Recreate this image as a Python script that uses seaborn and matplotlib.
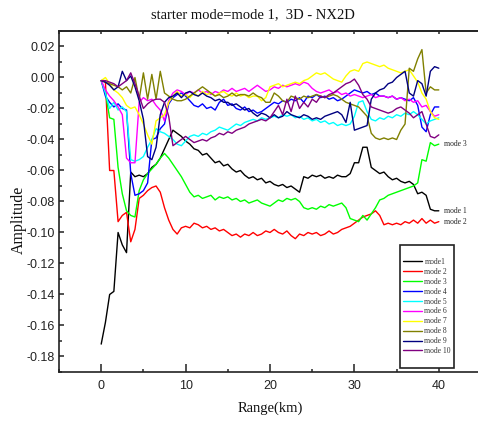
import numpy as np
import pandas as pd
import matplotlib
matplotlib.use("Agg")
import matplotlib.pyplot as plt
import seaborn as sns
from matplotlib.ticker import MultipleLocator, FormatStrFormatter
from matplotlib.patches import Rectangle
from matplotlib.lines import Line2D

# Range samples (km), 0.5 km step
range_km = np.arange(81) * 0.5

mode_1 = [
    -0.172, -0.158, -0.140, -0.138, -0.100, -0.108, -0.113, -0.061, -0.064, -0.063,
    -0.064, -0.062, -0.058, -0.056, -0.052, -0.046, -0.040, -0.034, -0.036, -0.038,
    -0.041, -0.043, -0.046, -0.047, -0.050, -0.049, -0.052, -0.055, -0.054, -0.057,
    -0.056, -0.059, -0.061, -0.060, -0.063, -0.065, -0.064, -0.066, -0.065, -0.068,
    -0.067, -0.069, -0.070, -0.069, -0.071, -0.070, -0.072, -0.074, -0.064, -0.065,
    -0.063, -0.064, -0.063, -0.065, -0.064, -0.065, -0.063, -0.064, -0.064, -0.062,
    -0.055, -0.055, -0.045, -0.045, -0.058, -0.060, -0.062, -0.061, -0.064, -0.066,
    -0.065, -0.067, -0.068, -0.067, -0.069, -0.075, -0.074, -0.076, -0.085, -0.086,
    -0.086,
]
mode_2 = [
    -0.002, -0.003, -0.060, -0.060, -0.093, -0.089, -0.087, -0.106, -0.098, -0.078,
    -0.076, -0.073, -0.071, -0.070, -0.074, -0.084, -0.092, -0.098, -0.101, -0.097,
    -0.096, -0.097, -0.094, -0.095, -0.097, -0.096, -0.098, -0.097, -0.099, -0.098,
    -0.100, -0.102, -0.101, -0.103, -0.101, -0.102, -0.100, -0.102, -0.101, -0.099,
    -0.100, -0.098, -0.100, -0.101, -0.099, -0.102, -0.104, -0.101, -0.102, -0.100,
    -0.101, -0.100, -0.102, -0.101, -0.099, -0.101, -0.100, -0.098, -0.097, -0.096,
    -0.094, -0.092, -0.090, -0.089, -0.088, -0.086, -0.089, -0.095, -0.094, -0.095,
    -0.094, -0.095, -0.093, -0.094, -0.092, -0.094, -0.091, -0.094, -0.092, -0.094,
    -0.093,
]
mode_3 = [
    -0.002, -0.010, -0.026, -0.027, -0.058, -0.075, -0.086, -0.089, -0.090, -0.073,
    -0.066, -0.062, -0.059, -0.056, -0.052, -0.049, -0.052, -0.056, -0.060, -0.064,
    -0.069, -0.074, -0.077, -0.076, -0.078, -0.077, -0.076, -0.079, -0.077, -0.078,
    -0.077, -0.079, -0.078, -0.080, -0.079, -0.081, -0.080, -0.079, -0.081, -0.082,
    -0.083, -0.081, -0.079, -0.080, -0.078, -0.079, -0.078, -0.080, -0.084, -0.085,
    -0.084, -0.085, -0.083, -0.084, -0.082, -0.083, -0.082, -0.081, -0.084, -0.091,
    -0.092, -0.093, -0.089, -0.092, -0.088, -0.084, -0.079, -0.078, -0.076, -0.075,
    -0.074, -0.073, -0.072, -0.071, -0.070, -0.068, -0.053, -0.054, -0.042, -0.044,
    -0.043,
]
mode_4 = [
    -0.002, -0.012, -0.016, -0.019, -0.017, -0.020, -0.021, -0.062, -0.076, -0.075,
    -0.073, -0.068, -0.040, -0.039, -0.033, -0.030, -0.017, -0.013, -0.011, -0.010,
    -0.012, -0.015, -0.018, -0.019, -0.017, -0.020, -0.019, -0.021, -0.016, -0.014,
    -0.018, -0.017, -0.020, -0.021, -0.019, -0.022, -0.021, -0.023, -0.022, -0.020,
    -0.018, -0.016, -0.017, -0.015, -0.016, -0.014, -0.015, -0.013, -0.016, -0.012,
    -0.013, -0.011, -0.013, -0.012, -0.014, -0.013, -0.015, -0.014, -0.012, -0.010,
    -0.008, -0.009, -0.010, -0.009, -0.011, -0.010, -0.012, -0.012, -0.013, -0.012,
    -0.014, -0.013, -0.014, -0.015, -0.013, -0.018, -0.032, -0.035, -0.024, -0.019,
    -0.019,
]
mode_5 = [
    -0.002, -0.010, -0.020, -0.016, -0.021, -0.019, -0.022, -0.053, -0.054, -0.053,
    -0.051, -0.045, -0.040, -0.033, -0.035, -0.036, -0.038, -0.040, -0.043, -0.044,
    -0.041, -0.038, -0.037, -0.038, -0.036, -0.037, -0.035, -0.034, -0.032, -0.033,
    -0.034, -0.032, -0.030, -0.031, -0.029, -0.028, -0.027, -0.028, -0.026, -0.027,
    -0.026, -0.025, -0.026, -0.024, -0.025, -0.024, -0.026, -0.025, -0.027, -0.026,
    -0.028, -0.027, -0.029, -0.028, -0.030, -0.029, -0.031, -0.030, -0.031, -0.030,
    -0.025, -0.016, -0.015, -0.022, -0.027, -0.028, -0.026, -0.027, -0.025, -0.026,
    -0.024, -0.025, -0.023, -0.024, -0.022, -0.024, -0.027, -0.030, -0.028, -0.027,
    -0.026,
]
mode_6 = [
    -0.002, -0.008, -0.012, -0.015, -0.019, -0.024, -0.052, -0.055, -0.055, -0.016,
    -0.013, -0.015, -0.014, -0.018, -0.021, -0.028, -0.015, -0.010, -0.008, -0.009,
    -0.011, -0.009, -0.010, -0.008, -0.010, -0.009, -0.011, -0.009, -0.010, -0.008,
    -0.009, -0.007, -0.009, -0.008, -0.007, -0.009, -0.007, -0.005, -0.007, -0.009,
    -0.008, -0.006, -0.007, -0.005, -0.006, -0.005, -0.004, -0.005, -0.003, -0.004,
    -0.007, -0.009, -0.010, -0.009, -0.008, -0.010, -0.009, -0.011, -0.010, -0.012,
    -0.011, -0.012, -0.013, -0.012, -0.011, -0.013, -0.012, -0.012, -0.013, -0.012,
    -0.014, -0.013, -0.015, -0.014, -0.016, -0.015, -0.019, -0.018, -0.022, -0.025,
    -0.024,
]
mode_7 = [
    -0.002, 0.000, -0.004, -0.008, -0.010, -0.013, -0.018, -0.020, -0.019, -0.024,
    -0.030, -0.037, -0.043, -0.028, -0.026, -0.024, -0.016, -0.012, -0.009, -0.012,
    -0.011, -0.013, -0.010, -0.012, -0.009, -0.011, -0.010, -0.012, -0.010, -0.009,
    -0.011, -0.012, -0.010, -0.012, -0.011, -0.013, -0.012, -0.012, -0.015, -0.013,
    -0.006, -0.005, -0.004, -0.006, -0.005, -0.004, -0.003, -0.004, -0.002, -0.001,
    0.001, 0.003, 0.002, 0.003, 0.001, -0.001, -0.002, -0.003, 0.001, 0.004,
    0.005, 0.004, 0.009, 0.010, 0.009, 0.008, 0.007, 0.008, 0.006, 0.005,
    0.004, 0.003, 0.004, 0.005, 0.001, -0.003, -0.010, -0.014, -0.022, -0.026,
    -0.027,
]
mode_8 = [
    -0.002, -0.003, -0.004, -0.005, -0.006, -0.008, -0.006, -0.010, 0.000, -0.014,
    0.003, -0.014, 0.002, -0.014, 0.004, -0.010, -0.012, -0.014, -0.015, -0.015,
    -0.014, -0.012, -0.010, -0.008, -0.006, -0.008, -0.010, -0.012, -0.011, -0.013,
    -0.012, -0.010, -0.012, -0.011, -0.011, -0.012, -0.010, -0.012, -0.013, -0.016,
    -0.016, -0.010, -0.012, -0.015, -0.016, -0.012, -0.013, -0.014, -0.012, -0.013,
    -0.012, -0.011, -0.012, -0.013, -0.012, -0.011, -0.012, -0.014, -0.016, -0.017,
    -0.018, -0.019, -0.022, -0.025, -0.036, -0.039, -0.040, -0.039, -0.040, -0.039,
    -0.040, -0.034, -0.030, 0.006, 0.004, 0.012, 0.018, -0.010, -0.006, -0.008,
    -0.008,
]
mode_9 = [
    -0.002, -0.003, -0.005, -0.008, -0.006, 0.004, -0.002, 0.001, -0.006, -0.015,
    -0.027, -0.051, -0.053, -0.045, -0.024, -0.016, -0.013, -0.012, -0.010, -0.013,
    -0.010, -0.009, -0.011, -0.012, -0.010, -0.012, -0.013, -0.015, -0.014, -0.016,
    -0.016, -0.018, -0.017, -0.019, -0.021, -0.020, -0.023, -0.025, -0.023, -0.024,
    -0.026, -0.024, -0.026, -0.025, -0.022, -0.024, -0.025, -0.026, -0.024, -0.025,
    -0.027, -0.026, -0.027, -0.025, -0.024, -0.023, -0.022, -0.024, -0.029, -0.016,
    -0.034, -0.033, -0.032, -0.031, -0.014, -0.010, -0.008, -0.007, -0.004, -0.003,
    0.000, 0.002, 0.004, -0.010, -0.012, -0.002, -0.004, -0.012, 0.004, 0.007,
    0.006,
]
mode_10 = [
    -0.002, -0.002, -0.003, -0.004, -0.006, -0.004, -0.002, 0.003, -0.004, -0.012,
    -0.020, -0.017, -0.015, -0.014, -0.014, -0.016, -0.025, -0.044, -0.042, -0.040,
    -0.038, -0.040, -0.042, -0.041, -0.040, -0.041, -0.039, -0.038, -0.036, -0.037,
    -0.035, -0.036, -0.034, -0.033, -0.032, -0.030, -0.029, -0.028, -0.027, -0.028,
    -0.026, -0.022, -0.018, -0.024, -0.014, -0.022, -0.012, -0.020, -0.016, -0.019,
    -0.014, -0.016, -0.012, -0.013, -0.011, -0.010, -0.008, -0.006, -0.004, -0.003,
    -0.001, -0.005, -0.011, -0.014, -0.019, -0.020, -0.021, -0.022, -0.023, -0.022,
    -0.020, -0.019, -0.021, -0.023, -0.026, -0.024, -0.022, -0.030, -0.038, -0.039,
    -0.037,
]

mode_names = ["mode 1", "mode 2", "mode 3", "mode 4", "mode 5",
              "mode 6", "mode 7", "mode 8", "mode 9", "mode 10"]
legend_labels = ["mode1", "mode 2", "mode 3", "mode 4", "mode 5",
                 "mode 6", "mode 7", "mode 8", "mode 9", "mode 10"]
mode_colors = ["#000000", "#ff0000", "#00ff00", "#0000ff", "#00ffff",
               "#ff00ff", "#ffff00", "#808000", "#000080", "#800080"]
series = [mode_1, mode_2, mode_3, mode_4, mode_5,
          mode_6, mode_7, mode_8, mode_9, mode_10]

sns.set_style("ticks")
plt.rcParams["font.family"] = ["Liberation Sans Narrow", "Liberation Sans", "DejaVu Sans"]
plt.rcParams["axes.unicode_minus"] = False
SERIF = ["Liberation Serif", "DejaVu Serif"]

df = pd.DataFrame({
    "range": np.tile(range_km, len(series)),
    "amp": np.concatenate([np.asarray(s, dtype=float) for s in series]),
    "mode": np.repeat(mode_names, len(range_km)),
})

W, H = 478, 423
fig = plt.figure(figsize=(W / 100, H / 100), dpi=100)
ax = fig.add_axes([59 / W, 51 / H, 422 / W, 341 / H])

sns.lineplot(data=df, x="range", y="amp", hue="mode",
             palette=dict(zip(mode_names, mode_colors)),
             estimator=None, sort=False, legend=False, lw=1.0, ax=ax)

ax.set_xlim(-5, 45)
ax.set_ylim(-0.19, 0.03)
ax.set_xlabel("")
ax.set_ylabel("")
ax.xaxis.set_major_locator(MultipleLocator(10))
ax.xaxis.set_minor_locator(MultipleLocator(5))
ax.yaxis.set_major_locator(MultipleLocator(0.02))
ax.yaxis.set_minor_locator(MultipleLocator(0.01))
ax.yaxis.set_major_formatter(FormatStrFormatter("%.2f"))

for side in ["left", "bottom", "top"]:
    ax.spines[side].set_linewidth(1.2)
    ax.spines[side].set_color("#222222")
ax.spines["right"].set_visible(False)

ax.tick_params(axis="x", which="major", direction="in", length=6, width=1.1,
               pad=6, labelsize=9, colors="#222222")
ax.tick_params(axis="x", which="minor", direction="in", length=2.2, width=1.1)
ax.tick_params(axis="y", which="major", direction="in", length=3.5, width=1.1,
               pad=3, labelsize=9, colors="#222222")
ax.tick_params(axis="y", which="minor", direction="in", length=2, width=1.1)

top = ax.secondary_xaxis("top")
top.xaxis.set_major_locator(MultipleLocator(5))
top.tick_params(direction="in", length=2.5, width=1.1, labeltop=False)
top.spines["top"].set_linewidth(1.2)

# end-of-line tags for the three lowest modes
for name, vals in [("mode 3", mode_3), ("mode 1", mode_1), ("mode 2", mode_2)]:
    ax.text(40.6, vals[-1], name, fontsize=5.5, family=SERIF,
            ha="left", va="center", color="#222222")

# legend box
box_x0, box_y0 = 341 / 422, 4 / 341
box_w, box_h = 54 / 422, 123 / 341
ax.add_patch(Rectangle((box_x0, box_y0), box_w, box_h, transform=ax.transAxes,
                       facecolor="white", edgecolor="#222222", lw=1.2, zorder=5))
handles = [Line2D([], [], color=c, lw=1.0) for c in mode_colors]
leg = ax.legend(handles, legend_labels, loc="center",
                bbox_to_anchor=(box_x0 + box_w / 2, box_y0 + box_h / 2),
                frameon=False, prop={"family": SERIF, "size": 5.5},
                handlelength=2.5, handletextpad=0.3, labelspacing=0.25,
                borderpad=0.2, labelcolor="#333333")
leg.set_zorder(6)

fig.text(253 / W, 1 - 15 / H, "starter mode=mode 1,  3D - NX2D",
         family=SERIF, fontsize=10.5, ha="center", va="center", color="#111111")
fig.text(270 / W, 1 - 408 / H, "Range(km)", family=SERIF, fontsize=10.5,
         ha="center", va="center", color="#111111")
fig.text(19 / W, 1 - 220 / H, "Amplitude", family=SERIF, fontsize=11.5,
         rotation=90, ha="center", va="center", color="#111111")

fig.savefig("out.png", dpi=100)
